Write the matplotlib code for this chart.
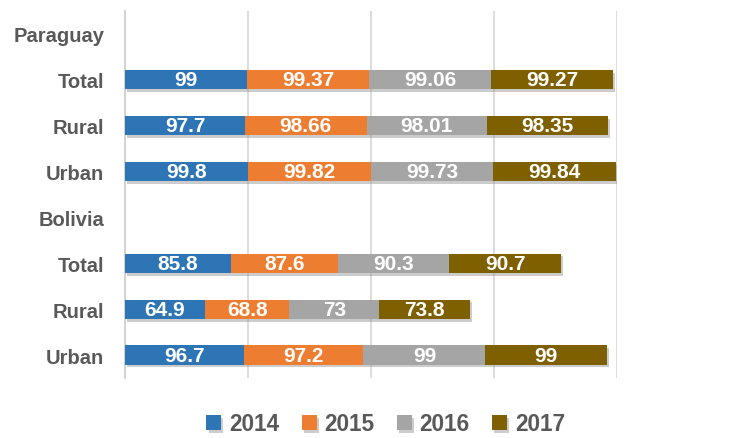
import numpy as np
import matplotlib.pyplot as plt
import matplotlib.patheffects as pe

plt.rcParams['font.family'] = ['Liberation Sans', 'DejaVu Sans']

# rows from top to bottom; header rows have no data
categories = ['Paraguay', 'Total', 'Rural', 'Urban', 'Bolivia', 'Total', 'Rural', 'Urban']
years = ['2014', '2015', '2016', '2017']
v2014 = [np.nan, 99, 97.7, 99.8, np.nan, 85.8, 64.9, 96.7]
v2015 = [np.nan, 99.37, 98.66, 99.82, np.nan, 87.6, 68.8, 97.2]
v2016 = [np.nan, 99.06, 98.01, 99.73, np.nan, 90.3, 73, 99]
v2017 = [np.nan, 99.27, 98.35, 99.84, np.nan, 90.7, 73.8, 99]
labels2014 = ['', '99', '97.7', '99.8', '', '85.8', '64.9', '96.7']
labels2015 = ['', '99.37', '98.66', '99.82', '', '87.6', '68.8', '97.2']
labels2016 = ['', '99.06', '98.01', '99.73', '', '90.3', '73', '99']
labels2017 = ['', '99.27', '98.35', '99.84', '', '90.7', '73.8', '99']

series = [v2014, v2015, v2016, v2017]
series_labels = [labels2014, labels2015, labels2016, labels2017]
colors = ['#2E75B6', '#ED7D31', '#A5A5A5', '#7F6000']

fig = plt.figure(figsize=(7.32, 4.39), dpi=100)
ax = fig.add_axes([125/732, 1-379/439, 492/732, 367/439])

y = np.arange(len(categories))
left = np.zeros(len(categories))
shadow = [pe.SimplePatchShadow(offset=(1.5, -2), shadow_rgbFace='#9a9a9a', alpha=0.5), pe.Normal()]
for vals, labs, c, yr in zip(series, series_labels, colors, years):
    v = np.nan_to_num(np.array(vals, dtype=float))
    bars = ax.barh(y, v, left=left, height=0.42, color=c, label=yr, zorder=3)
    for b in bars:
        b.set_path_effects(shadow)
    ax.bar_label(bars, labels=labs, label_type='center', color='white',
                 fontsize=15, fontweight='bold', zorder=4)
    left += v

ax.set_xlim(0, 400)
ax.set_ylim(len(categories) - 0.5, -0.5)
ax.set_xticks([0, 100, 200, 300, 400])
ax.set_xticklabels([])
ax.tick_params(axis='x', length=0)
ax.tick_params(axis='y', length=0, pad=15)
ax.set_yticks(y)
ax.set_yticklabels(categories, fontsize=14.5, fontweight='bold', color='#595959')
ax.grid(axis='x', color='#D9D9D9', lw=1.3, zorder=0)
for s in ['top', 'right', 'bottom']:
    ax.spines[s].set_visible(False)
ax.spines['left'].set_color('#D0D0D0')
ax.spines['left'].set_linewidth(1.3)

leg = fig.legend(loc='center', bbox_to_anchor=(0.527, 0.032), ncol=4, frameon=False,
                 handlelength=0.66, handleheight=0.66, columnspacing=0.98, handletextpad=0.35,
                 prop={'size': 16.3, 'weight': 'bold'})
for t in leg.get_texts():
    t.set_color('#595959')

fig.savefig('out.png', dpi=100)
